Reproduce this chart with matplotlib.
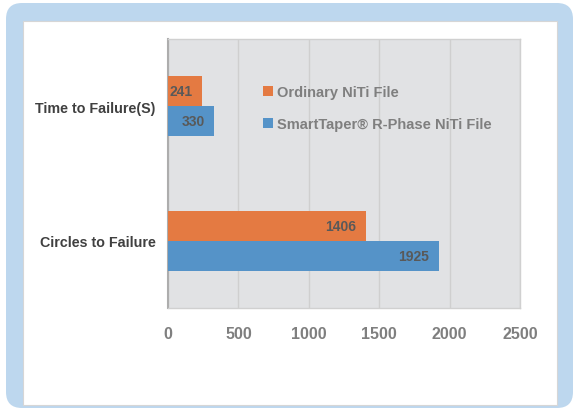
import matplotlib
matplotlib.use("Agg")
import matplotlib.pyplot as plt
from matplotlib.patches import FancyBboxPatch, Rectangle
from matplotlib.transforms import IdentityTransform
import numpy as np

categories = ["Circles to Failure", "Time to Failure(S)"]
ordinary = [1406, 241]
smarttaper = [1925, 330]
series_names = ["Ordinary NiTi File", "SmartTaper\u00ae R-Phase NiTi File"]
xticks = [0, 500, 1000, 1500, 2000, 2500]

plt.rcParams['font.family'] = ['Liberation Sans', 'DejaVu Sans']
W, H = 574, 410
fig = plt.figure(figsize=(W/100, H/100), dpi=100, facecolor='white')

# decorative frame
outer = FancyBboxPatch((6, H-409), 567, 405, boxstyle="round,pad=0,rounding_size=16",
                       facecolor='#BDD7EE', edgecolor='none', transform=IdentityTransform(), zorder=0)
fig.add_artist(outer)
inner = Rectangle((23, H-406), 534, 384, facecolor='white', edgecolor='#D6D6D6', lw=0.8,
                  transform=IdentityTransform(), zorder=0.5)
fig.add_artist(inner)

ax = fig.add_axes([168/W, (H-309)/H, 352/W, 269/H])
ax.set_facecolor('#E1E2E4')
ax.set_zorder(2)

y = np.arange(len(categories))
h = 0.222
c_or = '#E47A42'
c_bl = '#5593C8'
b1 = ax.barh(y + h/2, ordinary, height=h, color=c_or, label=series_names[0], zorder=3)
b2 = ax.barh(y - h/2, smarttaper, height=h, color=c_bl, label=series_names[1], zorder=3)

for bars, vals in ((b1, ordinary), (b2, smarttaper)):
    for rect, v in zip(bars, vals):
        ax.annotate(str(v), (rect.get_x() + rect.get_width(), rect.get_y() + rect.get_height()/2),
                    xytext=(-7, 0), textcoords='offset points', ha='right', va='center',
                    fontsize=10, fontweight='bold', color='#595959', zorder=4)

ax.set_xlim(0, 2500)
ax.set_ylim(-0.5, 1.5)
ax.set_xticks(xticks)
ax.set_xticklabels([str(t) for t in xticks])
ax.set_yticks(y)
ax.set_yticklabels(categories)
ax.tick_params(axis='x', length=0, pad=13, labelsize=11.5, labelcolor='#7F7F7F')
ax.tick_params(axis='y', length=0, pad=9, labelsize=10.3, labelcolor='#404040')
for lab in ax.get_xticklabels() + ax.get_yticklabels():
    lab.set_fontweight('bold')
ax.grid(axis='x', color='#CFCFCF', lw=1, zorder=1)
ax.set_axisbelow(True)
for s in ['top', 'right', 'bottom']:
    ax.spines[s].set_color('#D0D0D0')
    ax.spines[s].set_linewidth(1)
ax.spines['left'].set_color('#ADADAD')
ax.spines['left'].set_linewidth(1.5)

leg = ax.legend(handles=[b1, b2], loc='upper left', bbox_to_anchor=(0.254, 0.85),
                frameon=False, handlelength=0.65, handleheight=0.65, handletextpad=0.3,
                labelspacing=1.25, prop={'size': 10.5, 'weight': 'bold'}, borderaxespad=0)
for t in leg.get_texts():
    t.set_color('#7F7F7F')

fig.savefig('out.png', dpi=100, facecolor='white')
